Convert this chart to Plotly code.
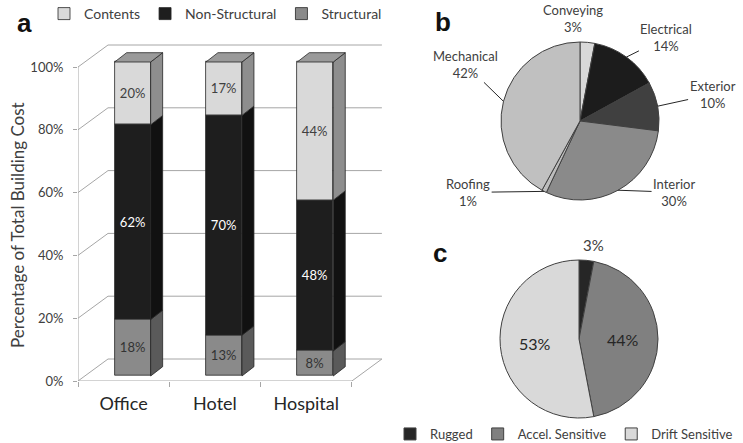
import math
import plotly.graph_objects as go

W, H = 743, 443
FONT = "Lato"

# ---------------- data ----------------
buildings = ["Office", "Hotel", "Hospital"]
series_names = ["Structural", "Non-Structural", "Contents"]
structural = [18, 13, 8]
non_structural = [62, 70, 48]
contents = [20, 17, 44]
y_ticks = [0, 20, 40, 60, 80, 100]
y_tick_text = ["0%", "20%", "40%", "60%", "80%", "100%"]

b_labels = ["Conveying", "Electrical", "Exterior", "Interior", "Roofing", "Mechanical"]
b_values = [3, 14, 10, 30, 1, 42]

c_labels = ["Rugged", "Accel. Sensitive", "Drift Sensitive"]
c_values = [3, 44, 53]

# ---------------- style ----------------
front_col = {"Structural": "#8a8a8a", "Non-Structural": "#1e1e1e", "Contents": "#d9d9d9"}
side_col = {"Structural": "#5a5a5a", "Non-Structural": "#111111", "Contents": "#8e8e8e"}
top_col = "#9a9a9a"
text_col = {"Structural": "#333333", "Non-Structural": "#ffffff", "Contents": "#404040"}
edge = "#262626"
grid = "#a6a6a6"

b_colors = ["#d9d9d9", "#1c1c1c", "#404040", "#8a8a8a", "#bdbdbd", "#c0c0c0"]
c_colors = ["#262626", "#808080", "#d9d9d9"]


def pxp(x):
    return x / W


def pyp(y):
    return 1 - y / H


# ---------------- panel a geometry (oblique 3D look) ----------------
X_UNIT = 91.3           # px per category
Y_UNIT = 3.14           # px per percent
X0_PX, Y0_PX = 78, 381  # pixel of (x=-0.5, y=0)
X_RANGE = [-0.5, 2.85]
Y_RANGE = [0, 110]
WALL_DX, WALL_DY = 30 / X_UNIT, 22 / Y_UNIT
BAR_DX, BAR_DY = 9 / X_UNIT, 5 / Y_UNIT
DEP_DX, DEP_DY = 12 / X_UNIT, 9.3 / Y_UNIT
BW = 36 / X_UNIT

x_dom = [pxp(X0_PX), pxp(X0_PX + (X_RANGE[1] - X_RANGE[0]) * X_UNIT)]
y_dom = [pyp(Y0_PX), pyp(Y0_PX - (Y_RANGE[1] - Y_RANGE[0]) * Y_UNIT)]

fig = go.Figure()

values_by_series = {"Structural": structural, "Non-Structural": non_structural, "Contents": contents}
xs = [i + BAR_DX for i in range(len(buildings))]

cum = [0.0] * len(buildings)
bases = {}
for s in series_names:
    bases[s] = list(cum)
    cum = [c + v for c, v in zip(cum, values_by_series[s])]

for s in ["Contents", "Non-Structural", "Structural"]:
    vals = values_by_series[s]
    fig.add_trace(go.Bar(
        x=xs, y=vals, base=[b + BAR_DY for b in bases[s]], width=BW,
        name=s, marker=dict(color=front_col[s], line=dict(color=edge, width=0.8)),
        text=[f"{v}%" for v in vals], textposition="inside", insidetextanchor="middle",
        textangle=0, constraintext="none",
        textfont=dict(family=FONT, size=13, color=text_col[s]),
        xaxis="x", yaxis="y", legend="legend", hoverinfo="skip",
    ))

for s in series_names:
    px_, py_ = [], []
    for i, x in enumerate(xs):
        xr = x + BW / 2
        yb = bases[s][i] + BAR_DY
        yt = yb + values_by_series[s][i]
        px_ += [xr, xr + DEP_DX, xr + DEP_DX, xr, xr, None]
        py_ += [yb, yb + DEP_DY, yt + DEP_DY, yt, yb, None]
    fig.add_trace(go.Scatter(
        x=px_, y=py_, mode="lines", fill="toself", fillcolor=side_col[s],
        line=dict(color=edge, width=0.8), showlegend=False, hoverinfo="skip",
        xaxis="x", yaxis="y"))

tx, ty = [], []
for i, x in enumerate(xs):
    xl, xr = x - BW / 2, x + BW / 2
    yt = cum[i] + BAR_DY
    tx += [xl, xr, xr + DEP_DX, xl + DEP_DX, xl, None]
    ty += [yt, yt, yt + DEP_DY, yt + DEP_DY, yt, None]
fig.add_trace(go.Scatter(
    x=tx, y=ty, mode="lines", fill="toself", fillcolor=top_col,
    line=dict(color=edge, width=0.8), showlegend=False, hoverinfo="skip",
    xaxis="x", yaxis="y"))

xl_edge, xr_edge = X_RANGE[0], len(buildings) - 0.5
path = []
for v in y_ticks:
    path.append(f"M{xl_edge},{v} L{xl_edge + WALL_DX},{v + WALL_DY} L{xr_edge + WALL_DX},{v + WALL_DY}")
path.append(f"M{xl_edge},{y_ticks[0]} L{xl_edge},{y_ticks[-1]}")
path.append(f"M{xl_edge},0 L{xr_edge},0 L{xr_edge + WALL_DX},{WALL_DY}")
shapes = [dict(type="path", xref="x", yref="y", path=" ".join(path),
               line=dict(color=grid, width=1), layer="below")]

# ---------------- pies ----------------
PB_C, PB_R = (580, 121), 79
PC_C, PC_R = (579, 339), 79


def dom(c, r):
    return dict(x=[pxp(c[0] - r), pxp(c[0] + r)], y=[pyp(c[1] + r), pyp(c[1] - r)])


fig.add_trace(go.Pie(
    values=b_values, labels=b_labels, domain=dom(PB_C, PB_R), sort=False,
    direction="clockwise", rotation=0, textinfo="none", showlegend=False,
    marker=dict(colors=b_colors, line=dict(color="#404040", width=1)), hoverinfo="skip"))

fig.add_trace(go.Pie(
    values=c_values, labels=c_labels, domain=dom(PC_C, PC_R), sort=False,
    direction="clockwise", rotation=0, textinfo="none", showlegend=True, legend="legend2",
    marker=dict(colors=c_colors, line=dict(color="#404040", width=1)), hoverinfo="skip"))


def mid_angles(vals):
    tot = sum(vals)
    out, acc = [], 0
    for v in vals:
        out.append(360 * (acc + v / 2) / tot)
        acc += v
    return out


def polar_px(c, r, ang, frac=1.0):
    t = math.radians(ang)
    return c[0] + frac * r * math.sin(t), c[1] - frac * r * math.cos(t)


def note(x, y, text, font, **kw):
    d = dict(x=pxp(x), y=pyp(y), xref="paper", yref="paper", text=text, font=font,
             xanchor="center", yanchor="middle")
    d.update(kw)
    return d


annotations = []
lab_font = dict(family=FONT, size=13, color="#404040")
b_offsets = [(-14, -24, False), (40, -20, True), (55, -12, True),
             (56, 2, True), (-76, 1, True), (-38, -37, True)]
for lab, val, ang, (ox, oy, arrow) in zip(b_labels, b_values, mid_angles(b_values), b_offsets):
    ex, ey = polar_px(PB_C, PB_R, ang)
    txt = f"{lab}<br>{val}%"
    if arrow:
        annotations.append(note(ex, ey, txt, lab_font, showarrow=True, arrowhead=0, arrowwidth=1,
                                arrowcolor="#262626", ax=ox, ay=oy, align="center"))
    else:
        annotations.append(note(ex, ey, txt, lab_font, showarrow=False, xshift=ox, yshift=-oy,
                                align="center"))

c_angles = mid_angles(c_values)
ex, ey = polar_px(PC_C, PC_R, c_angles[0])
annotations.append(note(ex, ey, f"{c_values[0]}%", dict(family=FONT, size=15, color="#404040"),
                        showarrow=False, xshift=7, yshift=15))
for val, ang in zip(c_values[1:], c_angles[1:]):
    ix, iy = polar_px(PC_C, PC_R, ang, 0.56)
    annotations.append(note(ix, iy, f"{val}%", dict(family=FONT, size=16, color="#262626"),
                            showarrow=False))

for letter, (lx, ly) in {"a": (24, 23), "b": (443, 22), "c": (440, 253)}.items():
    annotations.append(note(lx, ly, f"<b>{letter}</b>",
                            dict(family="Liberation Sans", size=26, color="#111111"), showarrow=False))

annotations.append(note(17, 225, "Percentage of Total Building Cost",
                        dict(family=FONT, size=17, color="#404040"), textangle=-90, showarrow=False))

fig.update_layout(
    width=W, height=H, margin=dict(l=0, r=0, t=0, b=0, autoexpand=False),
    paper_bgcolor="white", plot_bgcolor="rgba(0,0,0,0)",
    barmode="overlay", bargap=0,
    font=dict(family=FONT, color="#404040"),
    xaxis=dict(domain=x_dom, range=X_RANGE, showgrid=False, zeroline=False, showline=False,
               tickmode="array", tickvals=list(range(len(buildings))), ticktext=buildings,
               ticks="", ticklabelstandoff=10, tickfont=dict(family=FONT, size=18, color="#262626"),
               minor=dict(tickmode="array", tickvals=[i - 0.5 for i in range(len(buildings) + 1)],
                          ticks="outside", ticklen=5, tickcolor=grid, tickwidth=1),
               fixedrange=True, automargin=False),
    yaxis=dict(domain=y_dom, range=Y_RANGE, showgrid=False, zeroline=False, showline=False,
               tickmode="array", tickvals=y_ticks, ticktext=y_tick_text,
               ticks="outside", ticklen=4, tickcolor=grid, tickwidth=1, ticklabelstandoff=7,
               tickfont=dict(family=FONT, size=13, color="#404040"), fixedrange=True,
               automargin=False),
    legend=dict(orientation="h", x=pxp(44), xanchor="left", y=pyp(14), yanchor="middle",
                font=dict(family=FONT, size=14, color="#404040"), bgcolor="rgba(0,0,0,0)",
                traceorder="normal"),
    legend2=dict(orientation="h", x=pxp(738), xanchor="right", y=pyp(434), yanchor="middle",
                 font=dict(family=FONT, size=13, color="#404040"), bgcolor="rgba(0,0,0,0)"),
    shapes=shapes, annotations=annotations,
)

fig.write_html("out.html", config={"displayModeBar": False},
               post_script="document.body.style.margin='0px';")
